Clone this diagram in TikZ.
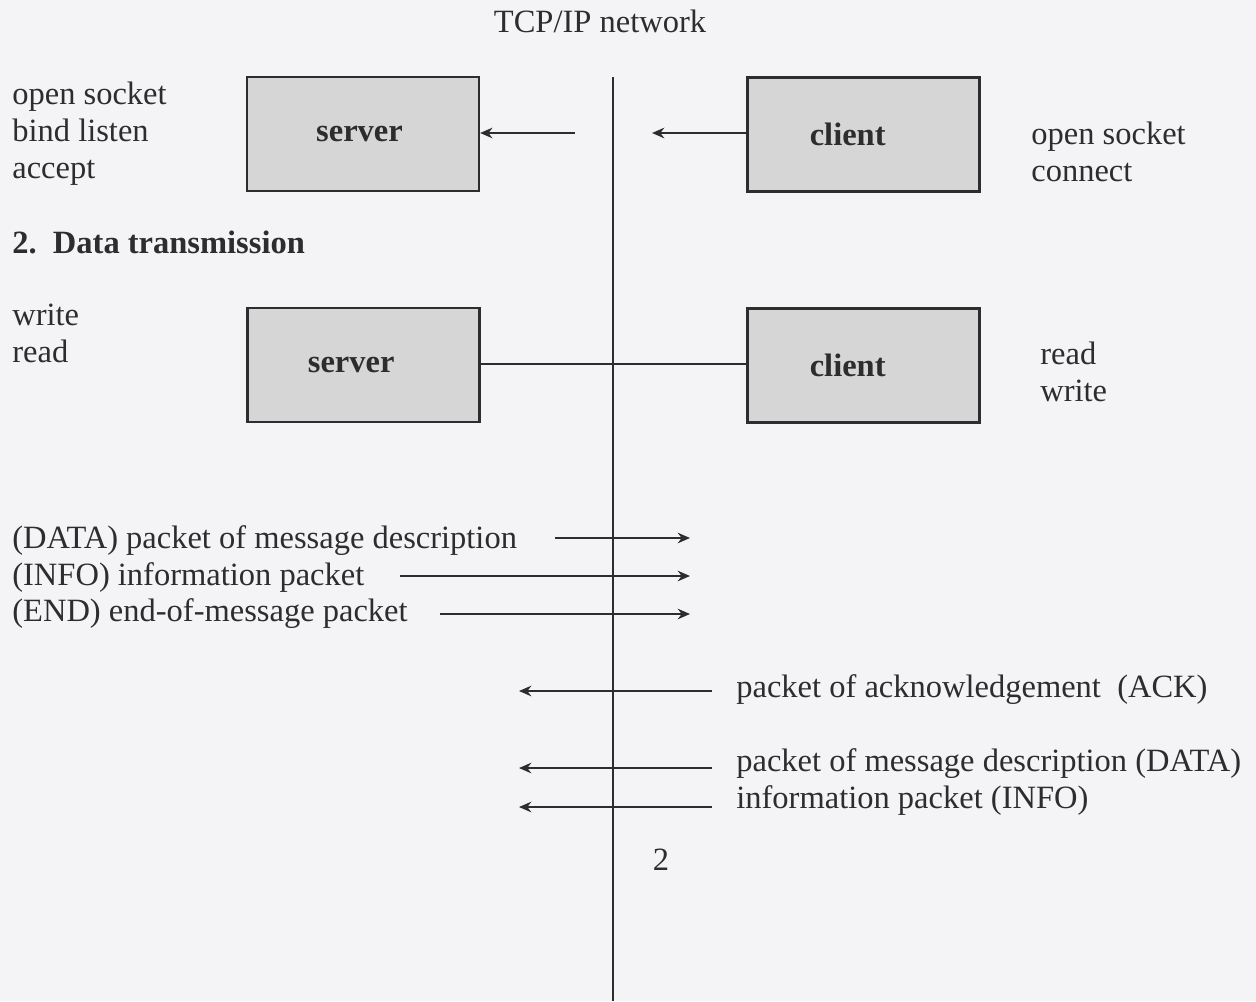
\documentclass[tikz,border=0pt]{standalone}
\usepackage{fontspec}
\setmainfont{Liberation Serif}
\usetikzlibrary{arrows.meta}
\definecolor{paper}{RGB}{244,244,246}
\definecolor{ink}{RGB}{45,45,45}
\definecolor{boxfill}{RGB}{214,214,214}
\tikzset{
	txt/.style={anchor=base west, align=left, inner sep=0pt, text=ink,
		font=\fontsize{18.5}{20.8}\selectfont},
	hostbox/.style={draw=ink, line width=1.3pt, fill=boxfill,
		minimum width=4.64cm, minimum height=2.28cm, text=ink,
		font=\fontsize{18.5}{20.8}\selectfont\bfseries},
	msg/.style={draw=ink, line width=1.3pt, -{Stealth[length=7pt,width=6pt]}},
	wire/.style={draw=ink, line width=1.3pt}
}
\begin{document}
\begin{tikzpicture}[x=0.02cm, y=-0.02cm]
	\fill[paper] (0,0) rectangle (1256,1001);
	\useasboundingbox (0,0) rectangle (1256,1001);
	% Netz
	\node[txt, anchor=base] (net) at (600,32) {TCP/IP network};
	\coordinate (bustop) at (613,77);
	\coordinate (busbot) at (613,1001);
	\draw[wire, line width=1.5pt] (bustop) -- (busbot);
	% Verbindungsaufbau
	\node[hostbox] (srvA) at (363,134) {\hspace*{-4pt}server};
	\node[hostbox] (cliA) at (863.5,134.5) {\hspace*{-18pt}client};
	\node[txt] (srvAops) at (12,178) {open socket\\bind listen\\accept};
	\node[txt] (cliAops) at (1031,181) {open socket\\connect};
	\coordinate (reqA) at (575,133);
	\coordinate (reqB) at (652,133);
	\draw[msg] (reqA) -- (srvA.east |- reqA);
	\draw[msg] (cliA.west |- reqB) -- (reqB);
	% Datenuebertragung
	\node[txt, font=\fontsize{18.5}{20.8}\selectfont\bfseries] (phase) at (12,253)
		{2.\ \ Data transmission};
	\node[hostbox] (srvB) at (363.5,365) {\hspace*{-14pt}server};
	\node[hostbox] (cliB) at (863.5,365.5) {\hspace*{-18pt}client};
	\node[txt] (srvBops) at (12,362) {write\\read};
	\node[txt] (cliBops) at (1040,401) {read\\write};
	\draw[wire] (srvB.east |- 0,364) -- (cliB.west |- 0,364);
	% Pakete zum Client
	\node[txt] (pdata) at (12,548) {(DATA) packet of message description};
	\node[txt] (pinfo) at (12,585) {(INFO) information packet};
	\node[txt] (pend) at (12,621) {(END) end-of-message packet};
	\coordinate (toA) at (690,538);
	\coordinate (toB) at (690,576);
	\coordinate (toC) at (690,614);
	\draw[msg] (555,538) -- (toA);
	\draw[msg] (400,576) -- (toB);
	\draw[msg] (440,614) -- (toC);
	% Pakete zum Server
	\node[txt] (rack) at (736,697) {packet of acknowledgement\ \ (ACK)};
	\node[txt] (rdata) at (736,771) {packet of message description (DATA)};
	\node[txt] (rinfo) at (736,808) {information packet (INFO)};
	\coordinate (frA) at (519,691);
	\coordinate (frB) at (519,768);
	\coordinate (frC) at (519,807);
	\draw[msg] (712,691) -- (frA);
	\draw[msg] (712,768) -- (frB);
	\draw[msg] (712,807) -- (frC);
	\node[txt, anchor=base] (pagenr) at (661,870) {2};
\end{tikzpicture}
\end{document}
